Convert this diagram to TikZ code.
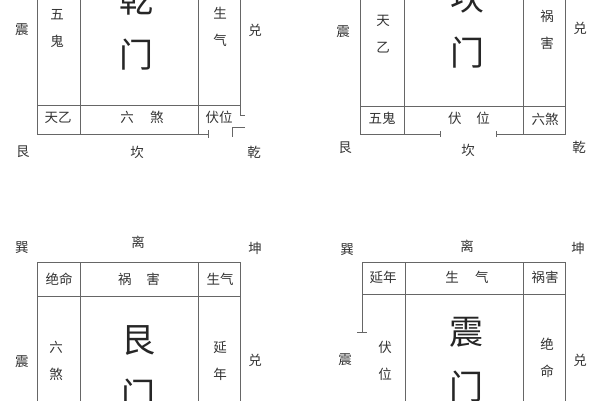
\documentclass[tikz,border=0pt]{standalone}
\usepackage{fontspec}
\setmainfont{Noto Sans CJK SC}
\begin{document}
\begin{tikzpicture}[x=1pt,y=-1pt]
\tikzset{
    grid/.style={%
        draw=black!60,
        line width=0.9pt
        },
    lab/.style={%
        text=black!80,
        font=\fontsize{13.5}{27}\selectfont,
        inner sep=0pt,
        align=center
        },
    big/.style={%
        text=black!85,
        font=\fontsize{34}{55}\selectfont,
        inner sep=0pt,
        align=center
        },
}
\useasboundingbox (0,0) rectangle (600,400);
\clip (0,0) rectangle (600,400);
%%%PANEL 1 (QIAN)
\draw[grid] (37,-10) -- (37,134) -- (208,134);
\draw[grid] (208,130) -- (208,138);
\draw[grid] (80,-10) -- (80,134);
\draw[grid] (198,-10) -- (198,134);
\draw[grid] (240,-10) -- (240,115) -- (245,115);
\draw[grid] (37,105) -- (240,105);
\draw[grid] (245,127) -- (232,127) -- (232,137);
\node[lab] (zhenA) at (22,30) {震};
\node[lab] (duiA) at (255,30) {兑};
\node[lab] (genA) at (23,152) {艮};
\node[lab] (kanA) at (137,152) {坎};
\node[lab] (qianA) at (254,152) {乾};
\node[lab] (wuguiA) at (57,28) {五\\鬼};
\node[lab] (shengqiA) at (220,27) {生\\气};
\node[lab] (tianyiA) at (58,118) {天乙};
\node[lab] (liushaA) at (142,117) {六\hspace{1.2em}煞};
\node[lab] (fuweiA) at (219,117) {伏位};
\node[big] (menA) at (136,27) {乾\\门};
%%%PANEL 2 (KAN)
\draw[grid] (440,134) -- (360,134) -- (360,-10);
\draw[grid] (440,131) -- (440,137);
\draw[grid] (496,131) -- (496,137);
\draw[grid] (496,134) -- (565,134) -- (565,-10);
\draw[grid] (404,-10) -- (404,134);
\draw[grid] (523,-10) -- (523,134);
\draw[grid] (360,106) -- (565,106);
\node[lab] (zhenB) at (343,32) {震};
\node[lab] (duiB) at (580,28) {兑};
\node[lab] (genB) at (345,148) {艮};
\node[lab] (kanB) at (468,150) {坎};
\node[lab] (qianB) at (579,147) {乾};
\node[lab] (tianyiB) at (383,34) {天\\乙};
\node[lab] (huohaiB) at (547,30) {祸\\害};
\node[lab] (wuguiB) at (382,118) {五鬼};
\node[lab] (fuweiB) at (469,118) {伏\hspace{1.1em}位};
\node[lab] (liushaB) at (545,119) {六煞};
\node[big] (menB) at (467,25) {坎\\门};
%%%PANEL 3 (GEN)
\draw[grid] (37,410) -- (37,262) -- (240,262) -- (240,410);
\draw[grid] (80,262) -- (80,410);
\draw[grid] (198,262) -- (198,410);
\draw[grid] (37,296) -- (240,296);
\node[lab] (xunC) at (22,248) {巽};
\node[lab] (liC) at (138,242) {离};
\node[lab] (kunC) at (255,248) {坤};
\node[lab] (zhenC) at (22,362) {震};
\node[lab] (duiC) at (255,360) {兑};
\node[lab] (jueming) at (59,279) {绝命};
\node[lab] (huohaiC) at (139,279) {祸\hspace{1.1em}害};
\node[lab] (shengqiC) at (220,279) {生气};
\node[lab] (liushaC) at (56,361) {六\\煞};
\node[lab] (yanianC) at (220,361) {延\\年};
\node[big] (menC) at (138,368) {艮\\门};
%%%PANEL 4 (ZHEN)
\draw[grid] (357,332) -- (367,332);
\draw[grid] (362,332) -- (362,262) -- (565,262) -- (565,410);
\draw[grid] (405,262) -- (405,410);
\draw[grid] (523,262) -- (523,410);
\draw[grid] (362,294) -- (565,294);
\node[lab] (xunD) at (347,250) {巽};
\node[lab] (liD) at (467,246) {离};
\node[lab] (kunD) at (578,248) {坤};
\node[lab] (zhenD) at (345,360) {震};
\node[lab] (duiD) at (580,360) {兑};
\node[lab] (yanianD) at (383,277) {延年};
\node[lab] (shengqiD) at (467,277) {生\hspace{1.2em}气};
\node[lab] (huohaiD) at (545,277) {祸害};
\node[lab] (fuweiD) at (385,361) {伏\\位};
\node[lab] (juemingD) at (547,358) {绝\\命};
\node[big] (menD) at (466,360) {震\\门};
\end{tikzpicture}
\end{document}
